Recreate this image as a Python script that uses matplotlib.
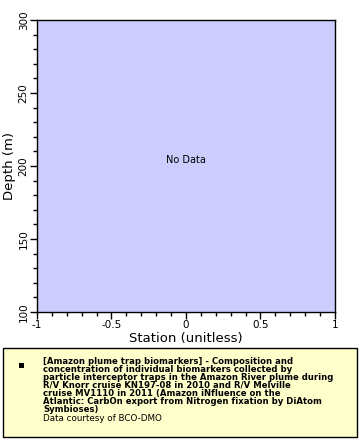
import matplotlib
matplotlib.use("Agg")
import matplotlib.pyplot as plt
from matplotlib.ticker import MultipleLocator
from matplotlib.patches import Rectangle

x_range = [-1, 1]
y_range = [100, 300]
x_ticks = [-1, -0.5, 0, 0.5, 1]
x_tick_labels = ["-1", "-0.5", "0", "0.5", "1"]
y_ticks = [100, 150, 200, 250, 300]
y_tick_labels = ["100", "150", "200", "250", "300"]
legend_title = ("[Amazon plume trap biomarkers] - Composition and\n"
                "concentration of individual biomarkers collected by\n"
                "particle interceptor traps in the Amazon River plume during\n"
                "R/V Knorr cruise KN197-08 in 2010 and R/V Melville\n"
                "cruise MV1110 in 2011 (Amazon iNfluence on the\n"
                "Atlantic: CarbOn export from Nitrogen fixation by DiAtom\n"
                "Symbioses)")
legend_credit = "Data courtesy of BCO-DMO"

fig = plt.figure(figsize=(3.6, 4.4), dpi=100)
W, H = 360, 440
ax = fig.add_axes([37 / W, 1 - 312 / H, (335 - 37) / W, (312 - 20) / H])
ax.set_facecolor("#CCCCFF")
ax.set_xlim(*x_range)
ax.set_ylim(*y_range)
ax.set_xticks(x_ticks)
ax.set_xticklabels(x_tick_labels, fontsize=7.5)
ax.set_yticks(y_ticks)
ax.set_yticklabels(y_tick_labels, fontsize=7.5, rotation=90, va="center")
ax.xaxis.set_minor_locator(MultipleLocator(0.1))
ax.yaxis.set_minor_locator(MultipleLocator(10))
ax.tick_params(which="major", length=5, width=1, pad=1)
ax.tick_params(which="minor", length=3, width=1)
ax.tick_params(axis="y", pad=1)
for s in ax.spines.values():
    s.set_linewidth(1)
ax.set_xlabel("Station (unitless)", fontsize=9.5, labelpad=1)
ax.set_ylabel("Depth (m)", fontsize=9.5, labelpad=2)
ax.text(0.5, 0.52, "No Data", transform=ax.transAxes, ha="center", va="center", fontsize=7)

# legend box
fig.patches.append(Rectangle((3 / W, 1 - 437 / H), 354 / W, 89 / H, transform=fig.transFigure,
                             facecolor="#FFFFCC", edgecolor="black", linewidth=1))
fig.patches.append(Rectangle((19 / W, 1 - 368 / H), 5 / W, 5 / H, transform=fig.transFigure,
                             facecolor="black", edgecolor="black", linewidth=0))
fig.text(43 / W, 1 - 357 / H, legend_title, fontsize=6.1, fontweight="bold", va="top", ha="left",
         linespacing=0.85)
fig.text(43 / W, 1 - 414 / H, legend_credit, fontsize=6.3, va="top", ha="left")

fig.savefig("out.png", dpi=100)
